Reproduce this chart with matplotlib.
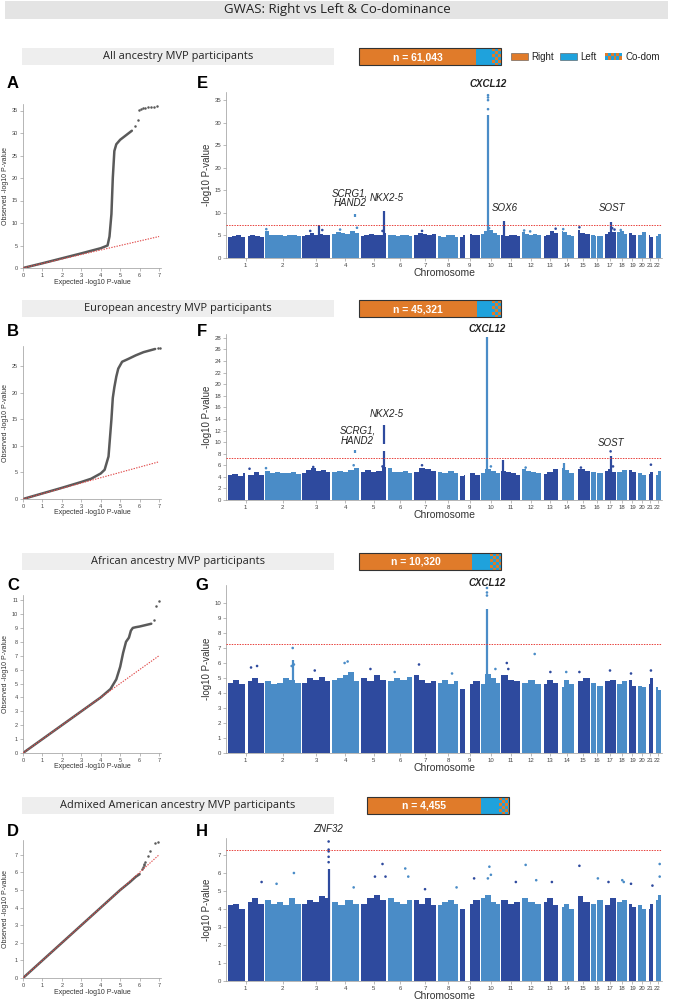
import numpy as np
import matplotlib
matplotlib.use("Agg")
import matplotlib.pyplot as plt
from matplotlib.patches import Rectangle

plt.rcParams['font.family'] = ['Liberation Sans', 'DejaVu Sans']

W, H = 674, 1000

# ---------------------------------------------------------------
# chromosomes (hg19 length in Mb) and stretches with no SNPs
chrom_len = [249.3, 243.2, 198.0, 191.2, 180.9, 171.1, 159.1, 146.4, 141.2, 135.5,
             135.0, 133.9, 115.2, 107.3, 102.5, 90.4, 81.2, 78.1, 59.1, 63.0, 48.1, 51.3]
gap_chrom = [1, 9, 13, 14, 15, 16, 21, 22]
gap_start = [121, 39, 0, 0, 0, 35, 0, 0]
gap_end = [143, 71, 19, 19, 20, 46, 14, 16]

# sections
section_titles = ['All ancestry MVP participants', 'European ancestry MVP participants',
                  'African ancestry MVP participants', 'Admixed American ancestry MVP participants']
section_n = ['n = 61,043', 'n = 45,321', 'n = 10,320', 'n = 4,455']
share_right = [0.824, 0.831, 0.796, 0.803]
share_left = [0.113, 0.106, 0.127, 0.127]

# ---------------------------------------------------------------
# QQ plots: dense part (line) and sparse tail (points)
qqA_x = [0, 1, 2, 3, 4, 4.35, 4.45, 4.55, 4.62, 4.7, 4.8, 5.0, 5.3, 5.6]
qqA_y = [0, 1.05, 2.15, 3.25, 4.4, 5.0, 7, 12, 20, 26, 27.5, 28.5, 29.5, 30.5]
qqA_tx = [5.75, 5.9, 5.98, 6.05, 6.15, 6.3, 6.45, 6.6, 6.75, 6.9]
qqA_ty = [31.5, 33.0, 35.2, 35.4, 35.5, 35.6, 35.7, 35.8, 35.8, 35.9]

qqB_x = [0, 1, 2, 3, 3.5, 4.0, 4.2, 4.4, 4.55, 4.62, 4.7, 4.8, 4.9, 5.1, 5.4, 5.8, 6.2, 6.6, 6.8]
qqB_y = [0, 1.05, 2.1, 3.2, 3.8, 4.8, 5.5, 8, 15, 19, 21, 23, 24.5, 25.8, 26.3, 27, 27.6, 28.0, 28.2]
qqB_tx = [6.95, 7.05]
qqB_ty = [28.3, 28.3]

qqC_x = [0, 1, 2, 3, 4, 4.5, 4.8, 5.0, 5.15, 5.3, 5.45, 5.55, 5.65, 5.8, 6.0, 6.3, 6.6]
qqC_y = [0, 1, 2, 3, 4, 4.6, 5.3, 6.2, 7.2, 8.0, 8.3, 8.8, 9.0, 9.05, 9.1, 9.2, 9.3]
qqC_tx = [6.75, 6.85, 7.0]
qqC_ty = [9.6, 10.6, 10.9]

qqD_x = [0, 1, 2, 3, 4, 5, 5.5, 5.8, 6.0]
qqD_y = [0, 1, 2, 3, 4, 5, 5.45, 5.75, 5.9]
qqD_tx = [6.1, 6.15, 6.2, 6.25, 6.3, 6.45, 6.55, 6.8, 6.95]
qqD_ty = [6.2, 6.3, 6.4, 6.5, 6.6, 6.95, 7.2, 7.65, 7.7]

# ---------------------------------------------------------------
# Manhattan plots: top of the dense SNP mass along each chromosome
env_E = [[4.6, 4.9, 5.2, 4.7, 4.8, 5.0, 4.9, 4.6], [6.0, 5.2, 5.0, 5.1, 4.9, 5.0, 5.2, 4.9],
         [4.9, 5.2, 5.5, 5.1, 5.4, 5.2, 5.0], [5.3, 5.7, 5.5, 5.3, 5.9, 5.6],
         [4.9, 5.1, 5.4, 5.0, 5.2, 5.6], [5.0, 5.2, 4.9, 5.1, 5.0, 4.8],
         [5.1, 5.6, 5.3, 5.0, 5.4], [4.9, 4.7, 5.0, 5.1, 4.6], [4.7, 5.1, 5.4, 5.0, 5.2],
         [5.4, 5.9, 6.3, 5.6, 5.2], [5.0, 4.9, 5.1, 5.0, 4.8], [5.7, 5.4, 5.1, 5.3, 5.0],
         [4.8, 5.2, 6.0, 5.6], [6.0, 5.7, 5.2, 4.9], [6.3, 5.6, 5.3], [5.0, 4.8, 4.9],
         [5.4, 5.8, 5.7], [5.7, 6.0, 5.3], [5.6, 5.2], [5.1, 5.7], [5.2, 4.7], [4.8, 5.4]]
env_F = [[4.3, 4.5, 4.2, 4.6, 4.3, 4.8, 4.4], [5.0, 4.7, 4.8, 4.6, 4.7, 4.9, 4.5],
         [4.6, 5.1, 5.5, 5.0, 5.2, 4.8], [4.8, 5.0, 4.9, 5.2, 5.5], [4.9, 5.2, 4.8, 5.0, 5.7],
         [5.5, 4.9, 4.8, 5.0, 4.7], [4.8, 5.6, 5.3, 5.0], [4.9, 4.7, 5.0, 4.6],
         [4.2, 4.4, 4.6, 4.3], [4.7, 5.4, 5.0, 4.6], [5.0, 4.8, 4.6, 4.4], [5.4, 5.0, 4.9, 4.7],
         [4.5, 4.9, 5.3], [5.6, 5.2, 4.6], [5.3, 5.4, 5.0], [4.8, 4.6], [5.0, 5.4, 4.8],
         [4.8, 5.2], [5.2, 4.8], [4.7, 4.4], [4.5, 4.8], [4.4, 5.0]]
env_G = [[4.7, 4.9, 4.6, 4.8, 5.0, 4.7], [4.8, 4.6, 4.7, 5.0, 4.9, 4.7], [4.7, 5.0, 4.9, 5.1, 4.8],
         [4.9, 5.0, 5.2, 5.4, 4.8], [5.0, 4.8, 5.2, 4.9], [4.8, 5.0, 4.9, 5.1],
         [5.2, 4.9, 4.7, 4.8], [4.7, 4.9, 4.6, 4.8], [4.3, 4.6, 4.8], [4.6, 5.3, 5.0, 4.7],
         [5.2, 4.9, 4.8], [4.7, 4.9, 4.6], [4.6, 4.9, 4.7], [4.4, 4.9, 4.6], [4.8, 5.0],
         [4.7, 4.5], [4.8, 4.9], [4.6, 4.8], [4.9, 4.5], [4.5, 4.4], [4.6, 5.0], [4.4, 4.2]]
env_H = [[4.2, 4.3, 4.0, 4.4, 4.6, 4.3], [4.5, 4.3, 4.4, 4.2, 4.6, 4.3], [4.3, 4.5, 4.4, 4.7, 4.6],
         [4.4, 4.2, 4.5, 4.3], [4.3, 4.6, 4.8, 4.5], [4.6, 4.4, 4.3, 4.5], [4.5, 4.3, 4.6, 4.2],
         [4.2, 4.4, 4.5, 4.3], [4.0, 4.3, 4.5], [4.6, 4.8, 4.4, 4.3], [4.5, 4.3, 4.4],
         [4.6, 4.4, 4.3], [4.4, 4.6, 4.2], [4.1, 4.3, 4.0], [4.7, 4.4], [4.3, 4.5], [4.2, 4.6],
         [4.4, 4.5], [4.3, 4.1], [4.2, 4.0], [4.0, 4.3], [4.5, 4.8]]

# association columns: (chromosome, Mb, from, to)
peaks_E = [(10, 51, 0, 31.6), (4, 162, 9.0, 9.8), (5, 162, 0, 10.5), (11, 21, 0, 8.3),
           (17, 44, 0, 8.0), (3, 115, 0, 7.3)]
peaks_F = [(10, 45, 0, 28.2), (5, 162, 0, 8.4), (5, 162, 9.6, 12.9), (4, 162, 8.1, 8.6),
           (17, 44, 0, 7.6), (11, 15, 0, 6.9), (14, 34, 0, 6.4)]
peaks_G = [(10, 44, 0, 9.6), (2, 187, 0, 6.2)]
peaks_H = [(3, 182, 0, 6.2)]

# single SNPs standing above the mass: (chromosome, Mb, -log10 p)
pts_E = [(10, 51, 33.0), (10, 51, 35.0), (10, 51, 35.6), (10, 51, 36.1), (2, 12, 6.4), (3, 60, 6.0),
         (3, 140, 6.2), (4, 60, 6.3), (4, 172, 6.7), (5, 150, 6.0), (7, 60, 6.0), (12, 20, 6.1),
         (12, 60, 5.9), (13, 95, 6.5), (14, 30, 6.4), (15, 30, 6.8), (17, 55, 6.6), (17, 70, 6.3),
         (18, 30, 6.2), (10, 58, 6.6)]
pts_F = [(17, 44, 8.4), (21, 30, 6.1), (4, 150, 6.0), (5, 150, 5.8), (7, 60, 6.0), (17, 60, 5.8),
         (15, 40, 5.6), (12, 30, 5.6), (2, 10, 5.5), (10, 70, 5.8), (1, 150, 5.4), (3, 80, 5.7)]
pts_G = [(10, 44, 10.5), (10, 44, 10.7), (10, 44, 11.0), (2, 187, 7.0), (2, 195, 5.9), (2, 180, 5.8),
         (12, 90, 6.6), (4, 110, 6.1), (4, 90, 6.0), (7, 40, 5.9), (11, 40, 6.0), (11, 50, 5.6),
         (1, 160, 5.7), (1, 200, 5.8), (5, 70, 5.6), (10, 100, 5.6), (13, 60, 5.4), (14, 50, 5.4),
         (15, 30, 5.4), (17, 40, 5.5), (21, 30, 5.5), (19, 20, 5.3), (6, 50, 5.4), (8, 100, 5.3),
         (3, 90, 5.5)]
pts_H = [(3, 182, 6.6), (3, 182, 6.9), (3, 182, 7.2), (3, 182, 7.3), (3, 182, 7.75), (2, 195, 6.0),
         (5, 150, 6.5), (6, 120, 6.25), (10, 60, 6.35), (12, 30, 6.45), (15, 30, 6.4), (22, 40, 6.5),
         (22, 40, 5.8), (16, 50, 5.7), (17, 30, 5.5), (18, 40, 5.6), (18, 50, 5.5), (1, 230, 5.5),
         (11, 100, 5.5), (9, 100, 5.7), (10, 70, 5.9), (10, 50, 5.7), (5, 170, 5.8), (4, 150, 5.2),
         (7, 80, 5.1), (13, 70, 5.5), (2, 80, 5.4), (8, 130, 5.2), (12, 100, 5.6), (19, 20, 5.4),
         (21, 40, 5.3), (6, 140, 5.8), (5, 100, 5.8)]

# gene labels: (text, chromosome, Mb, y, bold)
genes_E = [('CXCL12', 10, 51, 38.6, True), ('SCRG1,\nHAND2', 4, 126, 13.3, False),
           ('NKX2-5', 5, 175, 13.3, False), ('SOX6', 11, 28, 11.1, False), ('SOST', 17, 51, 11.1, False)]
genes_F = [('CXCL12', 10, 45, 29.5, True), ('NKX2-5', 5, 175, 14.9, False),
           ('SCRG1,\nHAND2', 4, 175, 11.1, False), ('SOST', 17, 44, 9.8, False)]
genes_G = [('CXCL12', 10, 44, 11.3, True)]
genes_H = [('ZNF32', 3, 175, 8.45, False)]

# ---------------------------------------------------------------
starts = np.concatenate([[0], np.cumsum(chrom_len)[:-1]])
total = sum(chrom_len)
dark, light = '#2E4A9E', '#4A8CC7'
orange, blue = '#E07B2A', '#1FA2DC'

fig = plt.figure(figsize=(W / 100, H / 100), dpi=100)
ov = fig.add_axes([0, 0, 1, 1])
ov.set_xlim(0, W)
ov.set_ylim(H, 0)
ov.axis('off')


def px_axes(l, t, r, b):
    return fig.add_axes([l / W, 1 - b / H, (r - l) / W, (b - t) / H])


def style(ax, size):
    for s in ['top', 'right']:
        ax.spines[s].set_visible(False)
    for s in ['left', 'bottom']:
        ax.spines[s].set_color('#999999')
        ax.spines[s].set_linewidth(0.5)
    ax.tick_params(labelsize=size, length=2, width=0.4, color='#888888', labelcolor='#444444', pad=1.5)


def cut(a, b, holes):
    out = [(a, b)]
    for g0, g1 in holes:
        new = []
        for s, e in out:
            if g1 <= s or g0 >= e:
                new.append((s, e))
            else:
                if s < g0:
                    new.append((s, g0))
                if g1 < e:
                    new.append((g1, e))
        out = new
    return out


def cx(c, mb):
    return starts[c - 1] + mb


def chrom_col(c):
    return dark if c % 2 == 1 else light


# title band
ov.add_patch(Rectangle((5, 1), 663, 18, color='#E4E4E4', lw=0))
ov.text(337, 10, 'GWAS: Right vs Left & Co-dominance', ha='center', va='center',
        fontsize=9.5, family='Open Sans', color='#222222')

# section headers and share bars
head_top = [48, 300, 553, 797]
bar_left = [359, 359, 359, 367]
bw, bh, sq = 142, 17, 3
for i in range(4):
    t = head_top[i]
    ov.add_patch(Rectangle((22, t), 312, bh, color='#EEEEEE', lw=0))
    ov.text(178, t + bh / 2, section_titles[i], ha='center', va='center', fontsize=7.9,
            family='Open Sans', color='#222222')
    x0 = bar_left[i]
    wr = bw * share_right[i]
    wl = bw * share_left[i]
    ov.add_patch(Rectangle((x0, t), wr, bh, color=orange, lw=0))
    ov.add_patch(Rectangle((x0 + wr, t), wl, bh, color=blue, lw=0))
    xc = x0 + wr + wl
    wc = bw - wr - wl
    for r in range(int(np.ceil(bh / sq))):
        for k in range(int(np.ceil(wc / sq))):
            ov.add_patch(Rectangle((xc + k * sq, t + r * sq), min(sq, wc - k * sq), min(sq, bh - r * sq),
                                   color=orange if (r + k) % 2 == 0 else blue, lw=0))
    ov.add_patch(Rectangle((x0, t), bw, bh, fill=False, ec='#333333', lw=0.8))
    ov.text(x0 + wr / 2, t + bh / 2 + 0.5, section_n[i], ha='center', va='center', fontsize=7.5,
            color='white', fontweight='bold')

# legend
ov.add_patch(Rectangle((511, 53), 17, 6.5, color=orange, ec='#555555', lw=0.4))
ov.text(531, 56.5, 'Right', va='center', fontsize=7, color='#222222')
ov.add_patch(Rectangle((560, 53), 17, 6.5, color=blue, ec='#555555', lw=0.4))
ov.text(580, 56.5, 'Left', va='center', fontsize=7, color='#222222')
for k in range(6):
    for r in range(2):
        ov.add_patch(Rectangle((605 + k * 17 / 6, 53 + r * 3.25), 17 / 6, 3.25,
                               color=orange if (r + k) % 2 == 0 else blue, lw=0))
ov.text(625, 56.5, 'Co-dom', va='center', fontsize=7, color='#222222')

# ---------------------------------------------------------------
qq_x = [qqA_x, qqB_x, qqC_x, qqD_x]
qq_y = [qqA_y, qqB_y, qqC_y, qqD_y]
qq_tx = [qqA_tx, qqB_tx, qqC_tx, qqD_tx]
qq_ty = [qqA_ty, qqB_ty, qqC_ty, qqD_ty]
qq_y0 = [268, 499, 753, 978]
qq_ppu = [4.5, 5.32, 13.9, 17.6]
qq_top = [36.5, 28.7, 11.4, 7.85]
qq_ticks = [np.arange(0, 36, 5), np.arange(0, 26, 5), np.arange(0, 12, 1), np.arange(0, 8, 1)]

env = [env_E, env_F, env_G, env_H]
peaks = [peaks_E, peaks_F, peaks_G, peaks_H]
pts = [pts_E, pts_F, pts_G, pts_H]
genes = [genes_E, genes_F, genes_G, genes_H]
mh_y0 = [258, 500, 753, 981]
mh_ppu = [4.51, 5.79, 15.0, 18.0]
mh_top = [36.8, 28.6, 11.2, 7.95]
mh_ticks = [np.arange(0, 36, 5), np.arange(0, 29, 2), np.arange(0, 11, 1), np.arange(0, 8, 1)]

letters_l = ['A', 'B', 'C', 'D']
letters_r = ['E', 'F', 'G', 'H']
letter_y = [84, 332, 585, 832]

for i in range(4):
    # QQ plot
    y0 = qq_y0[i]
    top_px = y0 - qq_top[i] * qq_ppu[i]
    ax = px_axes(23, top_px, 161, y0)
    ax.plot(qq_x[i], qq_y[i], color='#5A5A5A', lw=1.8, solid_capstyle='round', zorder=2)
    ax.plot(qq_tx[i], qq_ty[i], 'o', color='#5A5A5A', ms=1.8, mew=0, zorder=2)
    ax.plot([0, 7], [0, 7], color='#E04848', ls=(0, (1.2, 1.2)), lw=0.8, zorder=3)
    ax.set_xlim(0, 7.1)
    ax.set_ylim(0, qq_top[i])
    ax.set_xticks(range(8))
    ax.set_yticks(qq_ticks[i])
    style(ax, 4)
    ov.text(92, y0 + 14, 'Expected -log10 P-value', ha='center', va='center', fontsize=5, color='#333333')
    ov.text(6, (top_px + y0) / 2, 'Observed -log10 P-value', ha='center', va='center', rotation=90,
            fontsize=5, color='#333333')

    # Manhattan plot
    y0 = mh_y0[i]
    top_px = y0 - mh_top[i] * mh_ppu[i]
    ax = px_axes(226, top_px, 662, y0)
    for c in range(1, 23):
        L = chrom_len[c - 1]
        vals = env[i][c - 1]
        w = L / len(vals)
        holes = [(-1e9, 4.5), (L - 4.5, 1e9)]
        holes += [(gap_start[j], gap_end[j]) for j in range(len(gap_chrom)) if gap_chrom[j] == c]
        for k, v in enumerate(vals):
            for s, e in cut(k * w, (k + 1) * w, holes):
                ax.bar(cx(c, s), v, width=e - s, align='edge', color=chrom_col(c), lw=0, zorder=1)
    for c, mb, lo, hi in peaks[i]:
        ax.vlines(cx(c, mb), lo, hi, color=chrom_col(c), lw=1.6, zorder=2)
    ax.scatter([cx(c, mb) for c, mb, v in pts[i]], [v for c, mb, v in pts[i]],
               c=[chrom_col(c) for c, mb, v in pts[i]], s=3.5, lw=0, zorder=2)
    ax.axhline(7.3, color='#E8413C', ls=(0, (1.5, 1.2)), lw=0.7, zorder=3)
    for txt, c, mb, y, bold in genes[i]:
        ax.text(cx(c, mb), y, txt, ha='center', va='center', fontsize=7, style='italic',
                fontweight='bold' if bold else 'normal', color='#222222', clip_on=False,
                linespacing=1.0)
    ax.set_xlim(-6, total + 4)
    ax.set_ylim(0, mh_top[i])
    ax.set_xticks(starts + np.array(chrom_len) / 2)
    ax.set_xticklabels([str(c) for c in range(1, 23)])
    ax.set_yticks(mh_ticks[i])
    style(ax, 4.3)
    ov.text(444, y0 + 15, 'Chromosome', ha='center', va='center', fontsize=7.5, color='#333333')
    ov.text(207, (top_px + y0) / 2, '-log10 P-value', ha='center', va='center', rotation=90,
            fontsize=7, color='#333333')

    ov.text(13, letter_y[i], letters_l[i], ha='center', va='center', fontsize=12, fontweight='bold')
    ov.text(202, letter_y[i], letters_r[i], ha='center', va='center', fontsize=12, fontweight='bold')

fig.savefig('out.png', dpi=100)
